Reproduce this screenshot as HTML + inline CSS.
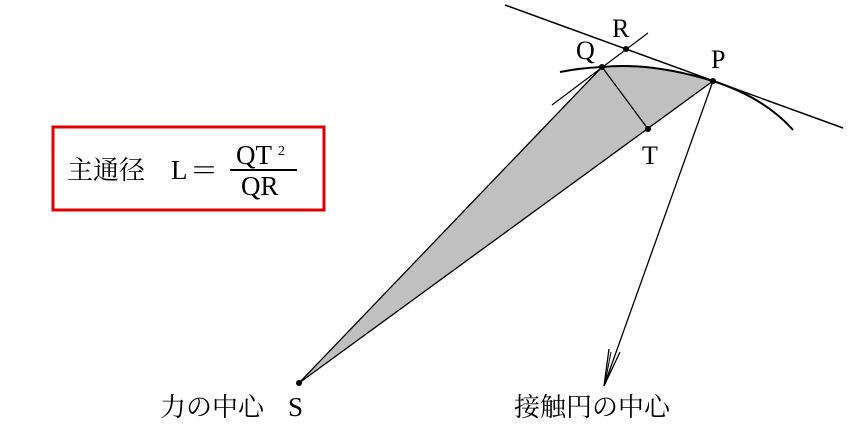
<!DOCTYPE html>
<html><head><meta charset="utf-8"><style>
body{margin:0;background:#fff;}
svg{display:block}
text{font-family:"Liberation Serif","Noto Serif CJK SC","Noto Sans CJK JP",serif;fill:#000}
</style></head><body>
<svg width="866" height="438" viewBox="0 0 866 438" xmlns="http://www.w3.org/2000/svg">
<path d="M299,383 L602,67 Q650,62 713,81 Z" fill="#c0c0c0" stroke="#000" stroke-width="1.3"/>
<line x1="505" y1="5" x2="843" y2="128" stroke="#000" stroke-width="1.5"/>
<line x1="552" y1="105" x2="648" y2="33" stroke="#000" stroke-width="1.2"/>
<path d="M560,72 Q580,68 602,67 Q650,62 713,81 Q765,98 793,130" fill="none" stroke="#000" stroke-width="2"/>
<line x1="602" y1="67" x2="648" y2="129" stroke="#000" stroke-width="1.3"/>
<line x1="713" y1="81" x2="604" y2="386" stroke="#000" stroke-width="1.3"/>
<polyline points="609,349 604,386 620,352" fill="none" stroke="#000" stroke-width="1.3"/>
<line x1="611" y1="352" x2="605" y2="383" stroke="#000" stroke-width="1"/>
<circle cx="602" cy="67" r="3"/><circle cx="626" cy="49" r="3"/><circle cx="713" cy="81" r="3"/><circle cx="648" cy="129" r="3"/><circle cx="299" cy="383" r="3"/>
<text x="612" y="37" font-size="26">R</text>
<text x="576" y="59" font-size="26">Q</text>
<text x="711" y="68" font-size="26">P</text>
<text x="642" y="164" font-size="26">T</text>
<rect x="53" y="127" width="271" height="83" fill="none" stroke="#e00000" stroke-width="3"/>
<text x="67" y="179" font-size="26">主通径</text>
<text x="171" y="179" font-size="27">L</text>
<text x="190" y="180" font-size="28">＝</text>
<text x="236" y="164" font-size="27">QT</text>
<text x="278" y="155" font-size="14">2</text>
<line x1="230" y1="170" x2="297" y2="170" stroke="#000" stroke-width="2"/>
<text x="241" y="195" font-size="27">QR</text>
<text x="160" y="416" font-size="26">力の中心</text>
<text x="288" y="416" font-size="27">S</text>
<text x="514" y="416" font-size="26">接触円の中心</text>
</svg>
</body></html>
